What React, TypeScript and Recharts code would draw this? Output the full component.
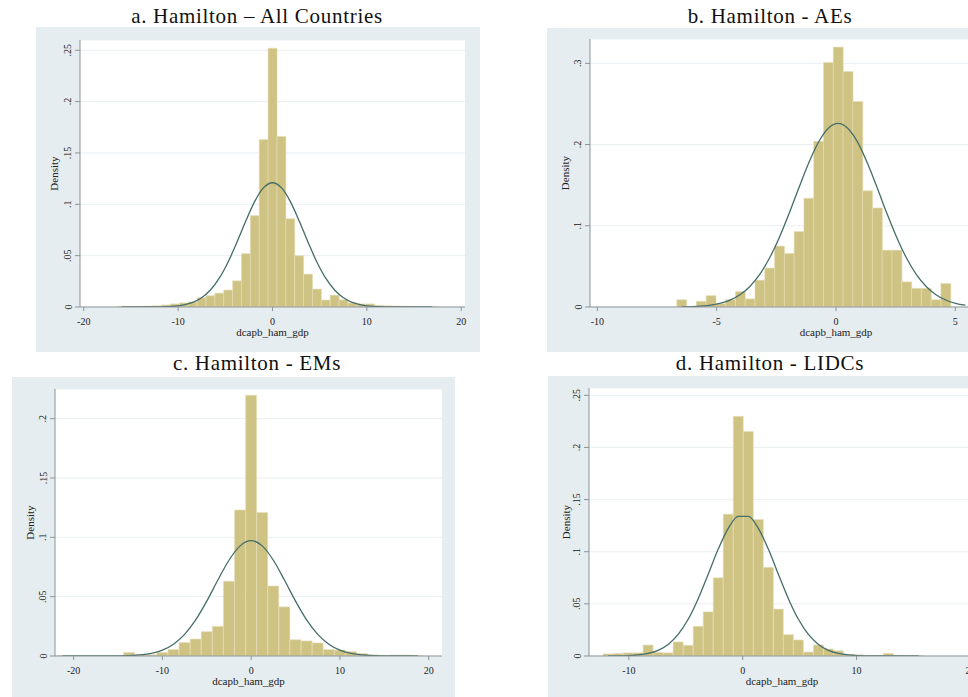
import React from 'react';
import { ComposedChart, Bar, Line, XAxis, YAxis, CartesianGrid, Label } from 'recharts';

const SERIF = '"Liberation Serif", "Times New Roman", serif';

// a. All Countries (bin width ~0.94)
const aCenters = [-15.98, -15.04, -14.1, -13.16, -12.22, -11.28, -10.34, -9.4, -8.46, -7.52, -6.58, -5.64, -4.7, -3.76, -2.82, -1.88, -0.94, 0, 0.94, 1.88, 2.82, 3.76, 4.7, 5.64, 6.58, 7.52, 8.46, 9.4, 10.34, 11.28, 12.22, 13.16, 14.1, 15.04, 15.98, 16.92];
const aDensity = [0.0005, 0.0006, 0.0007, 0.0009, 0.0012, 0.002, 0.003, 0.004, 0.005, 0.009, 0.011, 0.0135, 0.0165, 0.0255, 0.052, 0.089, 0.163, 0.252, 0.166, 0.086, 0.05, 0.032, 0.0175, 0.0068, 0.0115, 0.007, 0.004, 0.003, 0.003, 0.0016, 0.0013, 0.001, 0.0008, 0.0006, 0.0005, 0.0004];
const aNormal = [0, 0, 0, 0.00004, 0.00013, 0.00035, 0.00089, 0.00209, 0.00453, 0.00903, 0.0166, 0.0281, 0.0439, 0.0632, 0.084, 0.1029, 0.1162, 0.121, 0.1162, 0.1029, 0.084, 0.0632, 0.0439, 0.0281, 0.0166, 0.00903, 0.00453, 0.00209, 0.00089, 0.00035, 0.00013, 0.00004, 0, 0, 0, 0];

// b. AEs (bin width ~0.41)
const bCenters = [-6.47, -6.06, -5.65, -5.24, -4.83, -4.42, -4.01, -3.6, -3.19, -2.78, -2.37, -1.96, -1.55, -1.14, -0.73, -0.32, 0.09, 0.5, 0.91, 1.32, 1.73, 2.14, 2.55, 2.96, 3.37, 3.78, 4.19, 4.6, 5.01, 5.42];
const bDensity = [0.009, null, 0.007, 0.014, 0.004, 0.009, 0.019, 0.01, 0.033, 0.048, 0.075, 0.066, 0.093, 0.134, 0.204, 0.301, 0.32, 0.29, 0.253, 0.143, 0.122, 0.07, 0.07, 0.031, 0.023, 0.023, 0.009, 0.029, null, null];
const bNormal = [0.00023, 0.00053, 0.00115, 0.00239, 0.00468, 0.0087, 0.0153, 0.0256, 0.0404, 0.0606, 0.0859, 0.1155, 0.1472, 0.1776, 0.2032, 0.2201, 0.226, 0.2198, 0.2027, 0.1769, 0.1464, 0.1147, 0.0853, 0.06, 0.04, 0.0253, 0.0151, 0.0086, 0.0046, 0.0023];

// c. EMs (bin width ~1.25)
const cCenters = [-21.25, -20, -18.75, -17.5, -16.25, -15, -13.75, -12.5, -11.25, -10, -8.75, -7.5, -6.25, -5, -3.75, -2.5, -1.25, 0, 1.25, 2.5, 3.75, 5, 6.25, 7.5, 8.75, 10, 11.25, 12.5, 13.75, 15, 16.25, 17.5, 18.75];
const cDensity = [0.0004, 0.0003, 0.0002, 0.0003, 0.0003, 0.0004, 0.003, 0.001, 0.001, 0.003, 0.0055, 0.0113, 0.0143, 0.0205, 0.025, 0.063, 0.123, 0.2197, 0.121, 0.059, 0.0414, 0.0137, 0.0127, 0.011, 0.0055, 0.005, 0.0037, 0.002, 0.001, 0.0004, 0.0008, 0.0008, 0.0004];
const cNormal = [0, 0, 0, 0, 0, 0.00012, 0.00035, 0.00093, 0.00225, 0.00496, 0.00997, 0.0182, 0.0304, 0.0462, 0.064, 0.0807, 0.0928, 0.0972, 0.0928, 0.0807, 0.064, 0.0462, 0.0304, 0.0182, 0.00997, 0.00496, 0.00225, 0.00093, 0.00035, 0.00012, 0, 0, 0];

// d. LIDCs (bin width ~0.88)
const dCenters = [-11.83, -10.95, -10.07, -9.19, -8.31, -7.43, -6.55, -5.67, -4.79, -3.91, -3.03, -2.15, -1.27, -0.39, 0.49, 1.37, 2.25, 3.13, 4.01, 4.89, 5.77, 6.65, 7.53, 8.41, 9.29, 10.17, 11.05, 11.93, 12.81, 13.69, 14.57, 15.45];
const dDensity = [0.002, 0.0025, 0.003, 0.003, 0.0105, 0.0035, 0.003, 0.0135, 0.0103, 0.0285, 0.0423, 0.075, 0.136, 0.2298, 0.2154, 0.131, 0.085, 0.045, 0.0205, 0.0154, 0.0038, 0.0106, 0.0067, 0.005, 0.0016, 0.0012, 0.0006, 0.0006, 0.0025, 0.0006, 0.0005, 0.0005];
const dNormal = [0.00004, 0.00013, 0.00038, 0.001, 0.00244, 0.00544, 0.01107, 0.02065, 0.0352, 0.055, 0.0784, 0.1025, 0.1224, 0.1338, 0.1338, 0.1224, 0.1025, 0.0784, 0.055, 0.0352, 0.02065, 0.01107, 0.00544, 0.00244, 0.001, 0.00038, 0.00013, 0.00004, 0, 0, 0, 0];

const xTicksWide = [-20, -10, 0, 10, 20];
const xTicksAEs = [-10, -5, 0, 5, 10];
const xTicksLIDCs = [-10, 0, 10, 20];
const yTicksA = [0, 0.05, 0.1, 0.15, 0.2, 0.25];
const yTicksB = [0, 0.1, 0.2, 0.3];
const yTicksC = [0, 0.05, 0.1, 0.15, 0.2];

const rows = (xs: number[], hs: (number | null)[], ns: number[]) =>
  xs.map((x, i) => ({ x, h: hs[i], n: ns[i] }));

const fmtY = (v: number) => (v === 0 ? '0' : String(v).replace(/^0\./, '.'));

const txt = { fontFamily: SERIF, fill: '#222' };

const YTick = (props: any) => {
  const { x, y, payload } = props;
  const bx = x - 1.5;
  return (
    <text x={bx} y={y} transform={`rotate(-90 ${bx} ${y})`} textAnchor="middle"
      style={{ ...txt, fontSize: 10 }}>
      {fmtY(payload.value)}
    </text>
  );
};

const XTick = (props: any) => {
  const { x, y, payload } = props;
  return (
    <text x={x} y={y + 12} textAnchor="middle" style={{ ...txt, fontSize: 10 }}>
      {payload.value}
    </text>
  );
};

const XName = (props: any) => {
  const vb = props.viewBox;
  return (
    <text x={vb.x + vb.width / 2} y={vb.y + 29} textAnchor="middle" style={{ ...txt, fontSize: 11 }}>
      dcapb_ham_gdp
    </text>
  );
};

const YName = (props: any) => {
  const vb = props.viewBox;
  const cx = vb.x + 22;
  const cy = vb.y + vb.height / 2;
  return (
    <text x={cx} y={cy} transform={`rotate(-90 ${cx} ${cy})`} textAnchor="middle"
      style={{ ...txt, fontSize: 11 }}>
      Density
    </text>
  );
};

interface PanelProps {
  title: string;
  titleX: number;
  titleTop: number;
  left: number;
  top: number;
  width: number;
  height: number;
  mTop: number;
  mRight: number;
  yWidth: number;
  xDomain: [number, number];
  xTicks: number[];
  yDomain: [number, number];
  yTicks: number[];
  data: { x: number; h: number | null; n: number }[];
}

function Panel(p: PanelProps) {
  return (
    <>
      <div style={{
        position: 'absolute', left: p.titleX - 220, top: p.titleTop, width: 440,
        textAlign: 'center', fontFamily: SERIF, fontSize: 21, lineHeight: '21px',
        letterSpacing: 0.7, color: '#111',
      }}>
        {p.title}
      </div>
      <div style={{
        position: 'absolute', left: p.left, top: p.top, width: p.width, height: p.height,
        background: '#e6edf0',
      }}>
        <ComposedChart width={p.width} height={p.height} data={p.data}
          margin={{ top: p.mTop, right: p.mRight, left: 0, bottom: 0 }}
          barCategoryGap={0} barGap={0}>
          <CartesianGrid vertical={false} stroke="#e9eff2" fill="#ffffff" />
          <XAxis type="number" dataKey="x" domain={p.xDomain} ticks={p.xTicks} allowDataOverflow
            height={45} tickSize={4} stroke="#8d9398" tick={<XTick />} interval={0}>
            <Label content={<XName />} />
          </XAxis>
          <YAxis type="number" domain={p.yDomain} ticks={p.yTicks} allowDataOverflow
            width={p.yWidth} tickSize={5} stroke="#8d9398" tick={<YTick />} interval={0}>
            <Label content={<YName />} />
          </YAxis>
          <Bar dataKey="h" fill="#cfc383" stroke="#e6dfba" strokeWidth={0.6} isAnimationActive={false} />
          <Line dataKey="n" type="monotone" stroke="#456d69" strokeWidth={1.3} dot={false}
            activeDot={false} isAnimationActive={false} />
        </ComposedChart>
      </div>
    </>
  );
}

export default function App() {
  return (
    <div style={{
      position: 'absolute', left: 0, top: 0, width: 968, height: 697, overflow: 'hidden',
      background: '#ffffff',
    }}>
      <Panel title="a. Hamilton – All Countries" titleX={257} titleTop={6}
        left={36} top={27} width={444} height={325} mTop={13} mRight={15} yWidth={44}
        xDomain={[-20.4, 20.4]} xTicks={xTicksWide} yDomain={[0, 0.26]} yTicks={yTicksA}
        data={rows(aCenters, aDensity, aNormal)} />
      <Panel title="b. Hamilton - AEs" titleX={770} titleTop={6}
        left={547} top={28} width={550} height={324} mTop={11} mRight={15} yWidth={43}
        xDomain={[-10.31, 10.31]} xTicks={xTicksAEs} yDomain={[0, 0.33]} yTicks={yTicksB}
        data={rows(bCenters, bDensity, bNormal)} />
      <Panel title="c. Hamilton - EMs" titleX={257} titleTop={353}
        left={12} top={377} width={443} height={324} mTop={12} mRight={13} yWidth={43}
        xDomain={[-22.1, 21.5]} xTicks={xTicksWide} yDomain={[0, 0.225]} yTicks={yTicksC}
        data={rows(cCenters, cDensity, cNormal)} />
      <Panel title="d. Hamilton - LIDCs" titleX={770} titleTop={353}
        left={548} top={376} width={442} height={325} mTop={12} mRight={15} yWidth={41}
        xDomain={[-13.5, 20.4]} xTicks={xTicksLIDCs} yDomain={[0, 0.257]} yTicks={yTicksA}
        data={rows(dCenters, dDensity, dNormal)} />
    </div>
  );
}
